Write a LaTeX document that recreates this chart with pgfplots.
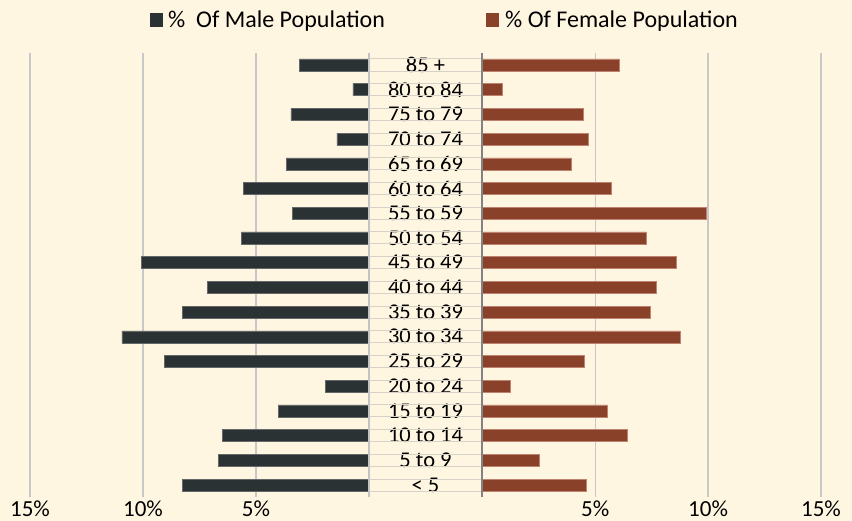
\documentclass[border=0pt]{standalone}
\usepackage{fontspec}
\setmainfont{Carlito}
\usepackage{pgfplots}
\pgfplotsset{compat=1.18}
\definecolor{bg}{RGB}{255,246,226}
\definecolor{male}{RGB}{43,50,52}
\definecolor{maleedge}{RGB}{100,104,104}
\definecolor{female}{RGB}{138,65,41}
\definecolor{femaleedge}{RGB}{190,130,112}
\definecolor{gridc}{RGB}{200,200,200}
\definecolor{tline}{RGB}{215,210,200}
\definecolor{lline}{RGB}{195,195,195}
\definecolor{rline}{RGB}{130,130,130}
\begin{document}
\begin{tikzpicture}[x=1pt,y=1pt]
\fill[bg] (0,0) rectangle (852,521);
\pgfplotsset{pyr/.style={scale only axis, height=444.8pt, ymin=-0.5, ymax=17.5,
  ytick=\empty, axis line style={draw=none}, major tick length=0pt,
  xmajorgrids, grid style={gridc, line width=1.3pt},
  xmin=0, xmax=15, xtick={5,10,15}, xticklabels={5\%,10\%,15\%},
  xticklabel style={anchor=base, yshift=-18.8pt, font=\fontsize{23}{27}\selectfont},
  xbar, bar width=12pt, bar shift=0pt, clip=false}}
\begin{axis}[pyr, width=339pt, x dir=reverse, at={(369pt,23.6pt)}, anchor=south east]
\addplot[fill=male, draw=maleedge, line width=0.5pt] coordinates {
(8.27,0) (6.65,1) (6.48,2) (4.02,3) (1.94,4) (9.05,5) (10.94,6) (8.27,7) (7.16,8)
(10.07,9) (5.65,10) (3.40,11) (5.55,12) (3.67,13) (1.42,14) (3.46,15) (0.71,16) (3.09,17)};
\end{axis}
\begin{axis}[pyr, width=338.7pt, at={(482.3pt,23.6pt)}, anchor=south west]
\addplot[fill=female, draw=femaleedge, line width=0.5pt] coordinates {
(4.61,0) (2.53,1) (6.41,2) (5.53,3) (1.23,4) (4.51,5) (8.76,6) (7.43,7) (7.69,8)
(8.60,9) (7.26,10) (9.92,11) (5.73,12) (3.96,13) (4.67,14) (4.45,15) (0.89,16) (6.05,17)};
\end{axis}
\begin{axis}[scale only axis, width=113pt, height=444.8pt, at={(369pt,23.6pt)}, anchor=south west,
  xmin=0, xmax=1, ymin=-0.5, ymax=17.5, xtick=\empty,
  ytick={0,...,17},
  yticklabels={< 5, 5 to 9, 10 to 14, 15 to 19, 20 to 24, 25 to 29, 30 to 34, 35 to 39, 40 to 44, 45 to 49, 50 to 54, 55 to 59, 60 to 64, 65 to 69, 70 to 74, 75 to 79, 80 to 84, 85 +},
  yticklabel style={anchor=center, xshift=56.5pt, inner sep=0pt, font=\fontsize{22.5}{26}\selectfont},
  axis line style={draw=none}, major tick length=0pt,
  extra y ticks={-0.243,0.243,0.757,1.243,1.757,2.243,2.757,3.243,3.757,4.243,4.757,5.243,5.757,6.243,6.757,7.243,7.757,8.243,8.757,9.243,9.757,10.243,10.757,11.243,11.757,12.243,12.757,13.243,13.757,14.243,14.757,15.243,15.757,16.243,16.757,17.243},
  extra y tick labels={},
  extra y tick style={grid=major, major grid style={tline, line width=0.9pt}},
  clip=false]
\draw[lline, line width=1.3pt] (rel axis cs:0,0) -- (rel axis cs:0,1);
\draw[rline, line width=1.4pt] (rel axis cs:1,0) -- (rel axis cs:1,1);
\end{axis}
\fill[male] (149.5,493.5) rectangle (162.5,507.5);
\node[anchor=base west, inner sep=0pt, font=\fontsize{24}{28}\selectfont] at (168,493.3) {\%\ \ Of Male Population};
\fill[female] (485.5,493.5) rectangle (498.5,507.5);
\node[anchor=base west, inner sep=0pt, font=\fontsize{24}{28}\selectfont] at (505,493.3) {\% Of Female Population};
\pgfresetboundingbox
\path (0,0) rectangle (852,521);
\end{tikzpicture}
\end{document}
